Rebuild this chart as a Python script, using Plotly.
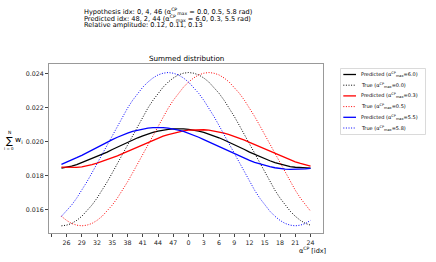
import plotly.graph_objects as go

# x positions: bin indices (rolled so the black hypothesis sits at the centre)
idx_labels = [25, 26, 27, 28, 29, 30, 31, 32, 33, 34, 35, 36, 37, 38, 39, 40, 41, 42, 43, 44,
              45, 46, 47, 48, 49, 0, 1, 2, 3, 4, 5, 6, 7, 8, 9, 10, 11, 12, 13, 14,
              15, 16, 17, 18, 19, 20, 21, 22, 23, 24]
positions = list(range(len(idx_labels)))

pred_black = [0.01844, 0.01848, 0.01855, 0.01864, 0.01876, 0.01887, 0.01898, 0.01911, 0.01924, 0.01938,
              0.01953, 0.01967, 0.01982, 0.01996, 0.02009, 0.02022, 0.02033, 0.02044, 0.02053, 0.02061,
              0.02067, 0.02071, 0.02074, 0.02075, 0.02074, 0.02071, 0.02067, 0.02061, 0.02053, 0.02044,
              0.02033, 0.02022, 0.02009, 0.01996, 0.01982, 0.01967, 0.01953, 0.01938, 0.01924, 0.01911,
              0.01898, 0.01887, 0.01876, 0.01867, 0.01859, 0.01853, 0.01849, 0.01846, 0.01845, 0.01844]
true_black = [0.01505, 0.01509, 0.01519, 0.01537, 0.01561, 0.01591, 0.01627, 0.01668, 0.01714, 0.01763,
              0.01816, 0.01871, 0.01927, 0.01983, 0.02039, 0.02094, 0.02147, 0.02196, 0.02242, 0.02283,
              0.02319, 0.02349, 0.02373, 0.02391, 0.02401, 0.02405, 0.02401, 0.02391, 0.02373, 0.02349,
              0.02319, 0.02283, 0.02242, 0.02196, 0.02147, 0.02094, 0.02039, 0.01983, 0.01927, 0.01871,
              0.01816, 0.01763, 0.01714, 0.01668, 0.01627, 0.01591, 0.01561, 0.01537, 0.01519, 0.01509]
pred_red = [0.01850, 0.01848, 0.01847, 0.01848, 0.01851, 0.01856, 0.01864, 0.01873, 0.01883, 0.01893,
            0.01904, 0.01916, 0.01929, 0.01942, 0.01955, 0.01969, 0.01982, 0.01995, 0.02008, 0.02020,
            0.02031, 0.02041, 0.02049, 0.02057, 0.02062, 0.02067, 0.02069, 0.02070, 0.02069, 0.02067,
            0.02062, 0.02057, 0.02049, 0.02041, 0.02031, 0.02020, 0.02008, 0.01995, 0.01982, 0.01969,
            0.01955, 0.01942, 0.01929, 0.01916, 0.01904, 0.01892, 0.01881, 0.01871, 0.01863, 0.01856]
true_red = [0.01561, 0.01537, 0.01519, 0.01509, 0.01505, 0.01509, 0.01519, 0.01537, 0.01561, 0.01591,
            0.01627, 0.01668, 0.01714, 0.01763, 0.01816, 0.01871, 0.01927, 0.01983, 0.02039, 0.02094,
            0.02147, 0.02196, 0.02242, 0.02283, 0.02319, 0.02349, 0.02373, 0.02391, 0.02401, 0.02405,
            0.02401, 0.02391, 0.02373, 0.02349, 0.02319, 0.02283, 0.02242, 0.02196, 0.02147, 0.02094,
            0.02039, 0.01983, 0.01927, 0.01871, 0.01816, 0.01763, 0.01714, 0.01668, 0.01627, 0.01591]
pred_blue = [0.01866, 0.01878, 0.01891, 0.01905, 0.01919, 0.01935, 0.01950, 0.01966, 0.01981, 0.01997,
             0.02011, 0.02025, 0.02038, 0.02049, 0.02059, 0.02067, 0.02074, 0.02079, 0.02082, 0.02083,
             0.02082, 0.02079, 0.02074, 0.02067, 0.02059, 0.02049, 0.02038, 0.02025, 0.02011, 0.01997,
             0.01983, 0.01969, 0.01955, 0.01941, 0.01927, 0.01914, 0.01901, 0.01889, 0.01878, 0.01868,
             0.01859, 0.01852, 0.01846, 0.01841, 0.01838, 0.01836, 0.01836, 0.01837, 0.01839, 0.01842]
true_blue = [0.01561, 0.01591, 0.01627, 0.01668, 0.01714, 0.01763, 0.01816, 0.01871, 0.01927, 0.01983,
             0.02039, 0.02094, 0.02147, 0.02196, 0.02242, 0.02283, 0.02319, 0.02349, 0.02373, 0.02391,
             0.02401, 0.02405, 0.02401, 0.02391, 0.02373, 0.02349, 0.02319, 0.02283, 0.02242, 0.02196,
             0.02147, 0.02094, 0.02039, 0.01983, 0.01927, 0.01871, 0.01816, 0.01763, 0.01714, 0.01668,
             0.01627, 0.01591, 0.01561, 0.01537, 0.01519, 0.01509, 0.01505, 0.01509, 0.01519, 0.01537]

pred_alpha = ["6.0", "0.3", "5.5"]
true_alpha = ["0.0", "0.5", "5.8"]
colors = ["black", "red", "blue"]

tick_positions = [-2, 1, 4, 7, 10, 13, 16, 19, 22, 25, 28, 31, 34, 37, 40, 43, 46, 49]
tick_text = [""] + [str(idx_labels[p]) for p in tick_positions[1:]]

FONT = "DejaVu Sans"
DOT = "1px,1.6px"

L, R, T, B = 49, 113, 64, 29
W, H = 436, 262
PW, PH = W - L - R, H - T - B


def px(x):
    return (x - L) / PW


def py(y):
    return (H - B - y) / PH


fig = go.Figure()
preds = [pred_black, pred_red, pred_blue]
trues = [true_black, true_red, true_blue]
legend_items = []
for c, pa, ta, pv, tv in zip(colors, pred_alpha, true_alpha, preds, trues):
    fig.add_trace(go.Scatter(x=positions, y=pv, mode="lines",
                             line=dict(color=c, width=1.3),
                             name=f"Predicted (α<sup>CP</sup><sub>max</sub>={pa})"))
    fig.add_trace(go.Scatter(x=positions, y=tv, mode="lines",
                             line=dict(color=c, width=1.0, dash=DOT),
                             name=f"True (α<sup>CP</sup><sub>max</sub>={ta})"))
    legend_items.append((c, "solid", 1.3, f"Predicted (α<sup>CP</sup><sub>max</sub>={pa})"))
    legend_items.append((c, DOT, 1.0, f"True (α<sup>CP</sup><sub>max</sub>={ta})"))

axis_common = dict(showline=True, linecolor="#999999", linewidth=1, mirror=True,
                   ticks="outside", ticklen=3, tickcolor="#444444", showgrid=False,
                   zeroline=False, tickfont=dict(family=FONT, size=6.3, color="#222222"))
fig.update_xaxes(range=[-2.45, 51.45], tickmode="array", tickvals=tick_positions,
                 ticktext=tick_text, **axis_common)
fig.update_yaxes(range=[0.01463, 0.02455], tickmode="array",
                 tickvals=[0.016, 0.018, 0.020, 0.022, 0.024],
                 ticktext=["0.016", "0.018", "0.020", "0.022", "0.024"], **axis_common)

annots = []
shapes = []
top_lines = ["Hypothesis idx: 0, 4, 46 (α<sup>CP</sup><sub>max</sub> = 0.0, 0.5, 5.8 rad)",
             "Predicted idx: 48, 2, 44 (α<sup>CP</sup><sub>max</sub> = 6.0, 0.3, 5.5 rad)",
             "Relative amplitude: 0.12, 0.11, 0.13"]
for i, t in enumerate(top_lines):
    annots.append(dict(text=t, x=px(82), y=py(11.5 + 6.8 * i), xref="paper", yref="paper",
                       xanchor="left", yanchor="middle", showarrow=False,
                       font=dict(family=FONT, size=6.6, color="black")))
annots.append(dict(text="Summed distribution", x=0.5, y=py(58), xref="paper", yref="paper",
                   xanchor="center", yanchor="middle", showarrow=False,
                   font=dict(family=FONT, size=7.2, color="black")))
annots.append(dict(text="α<sup>CP</sup> [idx]", x=px(297), y=py(250), xref="paper", yref="paper",
                   xanchor="left", yanchor="middle", showarrow=False,
                   font=dict(family=FONT, size=6.5, color="black")))
# y label: sum_{i=0}^{N} w_i
annots.append(dict(text="∑", x=px(9), y=py(140), xref="paper", yref="paper",
                   xanchor="center", yanchor="middle", showarrow=False,
                   font=dict(family=FONT, size=10, color="black")))
annots.append(dict(text="N", x=px(9.5), y=py(132), xref="paper", yref="paper",
                   xanchor="center", yanchor="middle", showarrow=False,
                   font=dict(family=FONT, size=4.5, color="black")))
annots.append(dict(text="i = 0", x=px(9), y=py(148), xref="paper", yref="paper",
                   xanchor="center", yanchor="middle", showarrow=False,
                   font=dict(family=FONT, size=4, color="black")))
annots.append(dict(text="w<sub>i</sub>", x=px(13), y=py(140), xref="paper", yref="paper",
                   xanchor="left", yanchor="middle", showarrow=False,
                   font=dict(family=FONT, size=7.5, color="black")))

# legend drawn by hand for compact matplotlib-like layout
shapes.append(dict(type="rect", xref="paper", yref="paper",
                   x0=px(340.5), x1=px(425.5), y0=py(68.5), y1=py(134.5),
                   line=dict(color="#d0d0d0", width=0.8), fillcolor="white", layer="above"))
row_y = [74.5, 85.2, 95.9, 106.6, 117.3, 128.0]
for (c, d, w, label), ry in zip(legend_items, row_y):
    shapes.append(dict(type="line", xref="paper", yref="paper",
                       x0=px(343.3), x1=px(356), y0=py(ry), y1=py(ry),
                       line=dict(color=c, width=w, dash=d), layer="above"))
    annots.append(dict(text=label, x=px(359), y=py(ry), xref="paper", yref="paper",
                       xanchor="left", yanchor="middle", showarrow=False,
                       font=dict(family=FONT, size=5.0, color="black")))

fig.update_layout(
    width=W, height=H, autosize=False,
    margin=dict(l=L, r=R, t=T, b=B, pad=0),
    paper_bgcolor="white", plot_bgcolor="white",
    annotations=annots, shapes=shapes,
    showlegend=False,
)

fig.write_html("out.html",
               config={"displayModeBar": False, "staticPlot": True},
               post_script="document.body.style.margin='0';document.body.style.overflow='hidden';")
